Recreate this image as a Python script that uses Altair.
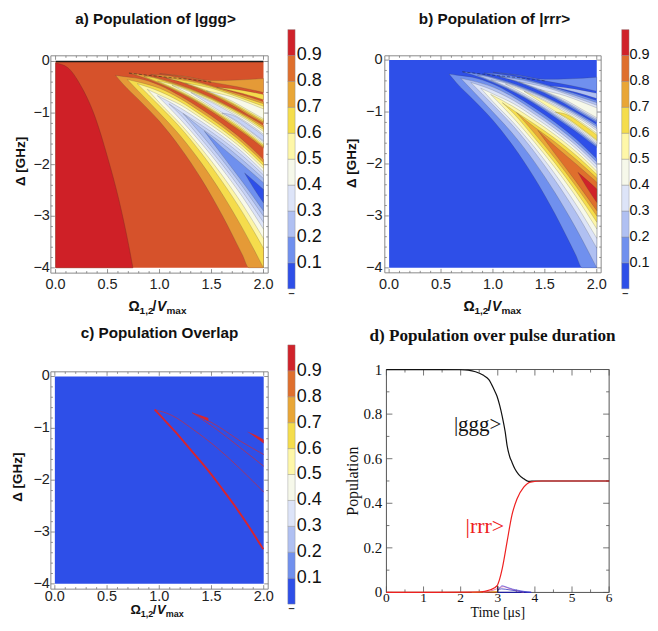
import altair as alt
import pandas as pd

# ---- contour lobes, each (omega, lower edge, upper edge)
C1 = ([.578,.65,.8,1,1.2,1.4,1.6,1.8,1.86,2], [-.27,-.44,-.74,-1.16,-1.67,-2.27,-2.97,-3.76,-4,-4], [-.27,-.29,-.33,-.46,-.67,-.92,-1.2,-1.52,-1.63,-1.9])
C2 = ([.69,.8,1,1.2,1.4,1.6,1.8,2], [-.35,-.58,-1.0,-1.44,-1.96,-2.56,-3.24,-4], [-.35,-.4,-.52,-.72,-.98,-1.26,-1.58,-1.96])
C3 = ([.786,1,1.2,1.4,1.6,1.8,2], [-.43,-.86,-1.28,-1.77,-2.32,-2.93,-3.62], [-.43,-.58,-.78,-1.04,-1.32,-1.64,-2.02])
C4 = ([.882,1,1.2,1.4,1.6,1.8,2], [-.54,-.8,-1.21,-1.68,-2.2,-2.78,-3.43], [-.54,-.65,-.84,-1.1,-1.38,-1.7,-2.08])
C5 = ([.978,1.2,1.4,1.6,1.8,2], [-.66,-1.12,-1.58,-2.08,-2.63,-3.25], [-.66,-.9,-1.16,-1.44,-1.76,-2.14])
C6 = ([1.09,1.2,1.4,1.6,1.8,2], [-.82,-1.03,-1.5,-1.99,-2.53,-3.12], [-.82,-.97,-1.23,-1.51,-1.83,-2.2])
C7 = ([1.227,1.4,1.6,1.8,2], [-1.01,-1.41,-1.9,-2.43,-3.0], [-1.01,-1.29,-1.58,-1.91,-2.27])
C8 = ([1.431,1.6,1.8,2], [-1.35,-1.81,-2.34,-2.9], [-1.35,-1.66,-2.0,-2.35])
C9 = ([1.818,1.9,2], [-2.16,-2.44,-2.74], [-2.16,-2.3,-2.48])
MAIN = [C1, C2, C3, C4, C5, C6, C7, C8, C9]

D1 = ([.706,.9,1.1,1.3,1.5,1.7,1.85,2], [-.225,-.35,-.52,-.72,-.97,-1.24,-1.45,-1.68], [-.225,-.28,-.39,-.53,-.7,-.9,-1.06,-1.24])
D2 = ([.85,.9,1.1,1.3,1.5,1.7,1.85,2], [-.29,-.33,-.5,-.7,-.94,-1.21,-1.42,-1.65], [-.29,-.3,-.41,-.55,-.72,-.92,-1.09,-1.28])
D3 = ([.98,1.1,1.3,1.5,1.7,1.85,2], [-.38,-.48,-.68,-.92,-1.18,-1.39,-1.62], [-.38,-.43,-.57,-.74,-.95,-1.12,-1.32])
D4 = ([1.12,1.3,1.5,1.7,1.85,2], [-.46,-.65,-.89,-1.15,-1.36,-1.59], [-.46,-.59,-.77,-.98,-1.15,-1.36])
D5 = ([1.3,1.5,1.7,1.85,2], [-.6,-.86,-1.12,-1.33,-1.56], [-.6,-.79,-1.01,-1.19,-1.41])
D6 = ([1.6,1.7,1.85,2], [-1.0,-1.1,-1.31,-1.54], [-1.0,-1.04,-1.22,-1.44])
SECOND = [D1, D2, D3, D4, D5, D6]

E1 = ([.914,1.1,1.3,1.5,1.7,1.85,2], [-.25,-.33,-.47,-.64,-.85,-1.03,-1.2], [-.25,-.28,-.36,-.47,-.59,-.68,-.78])
E2 = ([1.06,1.3,1.5,1.7,1.85,2], [-.32,-.45,-.62,-.82,-1.0,-1.17], [-.32,-.39,-.49,-.62,-.72,-.82])
E3 = ([1.25,1.5,1.7,1.85,2], [-.42,-.6,-.8,-.97,-1.14], [-.42,-.52,-.65,-.76,-.87])
E4 = ([1.45,1.7,1.85,2], [-.57,-.77,-.94,-1.11], [-.57,-.69,-.8,-.92])
THIRD = [E1, E2, E3, E4]

F1 = ([1.0,1.25,1.5,1.75,2], [-.235,-.3,-.4,-.49,-.6], [-.235,-.29,-.37,-.36,-.33])
F2 = ([1.55,1.8,2], [-.5,-.62,-.74], [-.5,-.56,-.64])

RED_X = [0,.115,.243,.37,.5,.61,.706,.744]
RED_Y = [-.03,-.116,-.47,-1.02,-1.855,-2.69,-3.59,-4]
DASH_X = [.706,.9,1.1,1.3,1.5]
DASH_Y = [-.225,-.27,-.31,-.35,-.4]

COL_A = ['#E59A37','#F5DC4C','#FDF6A6','#F8F9E9','#DCE3F8','#C6D2F6','#A9BCF1','#6F90EE','#2E4FE8']
COL_B = ['#7090EE','#B0C0F2','#DDE4F8','#F6F8EA','#FEF7A8','#F5DD4C','#E9A636','#DF6F2D','#D0222A']
BLUE = '#2E4FE8'
BASE_A = '#D6522B'
RED_A = '#CF2027'

# panel c curves
C_THICK_X = [.956,1.05,1.15,1.236,1.35,1.475,1.6,1.714,1.85,1.995]
C_THICK_Y = [-.64,-.84,-1.06,-1.26,-1.53,-1.83,-2.16,-2.47,-2.87,-3.33]
C_THIN1_X = [.956,1.11,1.33,1.555,1.78,2]
C_THIN1_Y = [-.64,-.74,-1.03,-1.38,-1.79,-2.23]
C_THIN2_X = [1.316,1.555,1.78,2]
C_THIN2_Y = [-.70,-1.03,-1.38,-1.73]
C_THIN3_X = [1.316,1.555,1.78,2]
C_THIN3_Y = [-.70,-.95,-1.25,-1.505]
W2 = ([1.316,1.40,1.47], [-.70,-.79,-.87], [-.70,-.75,-.80])
W3 = ([1.84,1.92,2], [-1.06,-1.17,-1.29], [-1.06,-1.13,-1.22])

# colour bar
BAR_LOW = [0,.1,.2,.3,.4,.5,.6,.7,.8,.9]
BAR_HIGH = [.1,.2,.3,.4,.5,.6,.7,.8,.9,1]
BAR_COL = ['#2E4FE8','#7090EE','#B0C0F2','#DDE4F8','#F6F8EA','#FEF7A8','#F5DD4C','#E9A636','#DF6F2D','#D0222A']
BAR_LAB = [.1,.2,.3,.4,.5,.6,.7,.8,.9]

# panel d curves
T_G = [0,1.5,2,2.2,2.4,2.6,2.76,2.9,2.98,3.05,3.12,3.2,3.25,3.32,3.38,3.46,3.56,3.7,3.83,4,6]
P_G = [1,1,.999,.997,.99,.975,.955,.91,.88,.84,.79,.72,.66,.61,.585,.555,.53,.51,.498,.5,.5]
T_R = [0,2.5,2.8,2.98,3.05,3.12,3.25,3.38,3.52,3.7,3.88,4.19,6]
P_R = [0,.002,.012,.03,.06,.107,.227,.346,.42,.472,.495,.5,.5]
T_S1 = [2.98,3.05,3.12,3.2,3.4,3.6,3.8,3.9]
P_S1 = [0,.02,.03,.026,.015,.008,.002,0]
T_S2 = [2.6,2.8,3.0,3.15,3.3,3.5,3.7]
P_S2 = [.001,.006,.018,.026,.018,.008,.001]
T_S3 = [3.0,3.1,3.3,3.5,3.7,3.9]
P_S3 = [.012,.016,.012,.007,.003,0]
T_S4 = [2.3,2.6,2.8,3.0]
P_S4 = [0,.003,.005,.004]
T_BASE1 = [0,3]
P_BASE1 = [0,0]
T_BASE2 = [3,3.9]
P_BASE2 = [0,0]
T_V = [3,3]
P_V = [0,.03]

X_MAJOR = [0,.5,1,1.5,2]
X_LABELS = ['0.0','0.5','1.0','1.5','2.0']
X_MINOR = [.1,.2,.3,.4,.6,.7,.8,.9,1.1,1.2,1.3,1.4,1.6,1.7,1.8,1.9]
Y_MAJOR = [-4,-3,-2,-1,0]
Y_LABELS = ['−4','−3','−2','−1','0']
Y_MINOR = [-3.8,-3.6,-3.4,-3.2,-2.8,-2.6,-2.4,-2.2,-1.8,-1.6,-1.4,-1.2,-.8,-.6,-.4,-.2]
T_MAJOR = [0,1,2,3,4,5,6]
T_LABELS = ['0','1','2','3','4','5','6']
T_MINOR = [.5,1.5,2.5,3.5,4.5,5.5]
Q_MAJOR = [0,.2,.4,.6,.8,1]
Q_LABELS = ['0','0.2','0.4','0.6','0.8','1']
Q_MINOR = [.1,.3,.5,.7,.9]

SANS = 'Liberation Sans'
SERIF = 'Liberation Serif'
ONE = alt.Data(values=[{'k': 1}])


def text(s, x, y, size, font=SANS, weight='normal', style='normal', color='#111', align='left', angle=0, base='alphabetic'):
    kw = dict(text=s, font=font, fontSize=size, fontWeight=weight, fontStyle=style,
              color=color, align=align, baseline=base)
    if angle:
        kw['angle'] = angle
    return alt.Chart(ONE).mark_text(**kw).encode(x=alt.value(x), y=alt.value(y))


def frame(l, r, t, b, color='#8a8a8a', w=1.0):
    return alt.Chart(ONE).mark_rect(fill='transparent', stroke=color, strokeWidth=w).encode(
        x=alt.value(l), x2=alt.value(r), y=alt.value(t), y2=alt.value(b))


def xticks(vals, xs, l0, l1, color='#777', w=.8):
    return alt.Chart(pd.DataFrame({'v': vals})).mark_rule(color=color, strokeWidth=w).encode(
        x=alt.X('v:Q', scale=xs, axis=None), y=alt.value(l0), y2=alt.value(l1))


def yticks(vals, ys, l0, l1, color='#777', w=.8):
    return alt.Chart(pd.DataFrame({'v': vals})).mark_rule(color=color, strokeWidth=w).encode(
        y=alt.Y('v:Q', scale=ys, axis=None), x=alt.value(l0), x2=alt.value(l1))


def xlabels(vals, labs, xs, y, font, size, color='#222'):
    return alt.Chart(pd.DataFrame({'v': vals, 't': labs})).mark_text(
        font=font, fontSize=size, color=color, align='center', baseline='middle'
    ).encode(x=alt.X('v:Q', scale=xs, axis=None), y=alt.value(y), text='t:N')


def ylabels(vals, labs, ys, x, font, size, color='#222'):
    return alt.Chart(pd.DataFrame({'v': vals, 't': labs})).mark_text(
        font=font, fontSize=size, color=color, align='right', baseline='middle'
    ).encode(y=alt.Y('v:Q', scale=ys, axis=None), x=alt.value(x), text='t:N')


def lobes_df(groups):
    rows = []
    k = 0
    for lobe, c in groups:
        for x, lo, up in zip(*lobe):
            rows.append({'x': x, 'lo': lo, 'up': up, 'g': f'{k:02d}', 'c': c})
        k += 1
    return pd.DataFrame(rows)


def lobes_layer(groups, xs, ys):
    return alt.Chart(lobes_df(groups)).mark_area(
        interpolate='monotone', stroke='#3a3a3a', strokeWidth=.35, strokeOpacity=.55
    ).encode(
        x=alt.X('x:Q', scale=xs, axis=None),
        y=alt.Y('lo:Q', scale=ys, axis=None),
        y2='up:Q',
        fill=alt.Color('c:N', scale=None),
        detail='g:N',
    )


def curve(tx, ty, xs, ys, color, w, dash=None, op=1, interp='monotone'):
    kw = dict(color=color, strokeWidth=w, opacity=op, interpolate=interp)
    if dash:
        kw['strokeDash'] = dash
    return alt.Chart(pd.DataFrame({'x': tx, 'y': ty})).mark_line(**kw).encode(
        x=alt.X('x:Q', scale=xs, axis=None), y=alt.Y('y:Q', scale=ys, axis=None))


def plain_area(tr, xs, ys, color):
    return alt.Chart(pd.DataFrame({'x': tr[0], 'lo': tr[1], 'up': tr[2]})).mark_area(
        color=color, interpolate='monotone').encode(
        x=alt.X('x:Q', scale=xs, axis=None), y=alt.Y('lo:Q', scale=ys, axis=None), y2='up:Q')


def omega_title(dx, by, s=14, sub=10, drop=3):
    k = s / 14
    return [
        text('Ω', dx, by, s, weight='bold'),
        text('1,2', dx + 11 * k, by + drop, sub, weight='bold'),
        text('/', dx + 24 * k, by, s, weight='bold'),
        text('V', dx + 28.5 * k, by, s, weight='bold', style='italic'),
        text('max', dx + 38 * k, by + drop, sub, weight='bold'),
    ]


def math_panel(w, h, xr, yr, fr, lab_y, lab_x, fills, title, tx, ty, dy_tx, ylab_x, om_x, om_y, om=(14, 10, 3)):
    xs = alt.Scale(domain=[0, 2], range=list(xr))
    ys = alt.Scale(domain=[-4, 0], range=list(yr))
    l, r, t, b = fr
    layers = list(fills(xs, ys))
    layers += [
        frame(l, r, t, b),
        xticks(X_MAJOR, xs, b, b - 4), xticks(X_MINOR, xs, b, b - 2),
        xticks(X_MAJOR, xs, t, t + 4), xticks(X_MINOR, xs, t, t + 2),
        yticks(Y_MAJOR, ys, l, l + 4), yticks(Y_MINOR, ys, l, l + 2),
        yticks(Y_MAJOR, ys, r, r - 4), yticks(Y_MINOR, ys, r, r - 2),
        xlabels(X_MAJOR, X_LABELS, xs, lab_y, SANS, 14.5),
        ylabels(Y_MAJOR, Y_LABELS, ys, lab_x, SANS, 14.5),
        text(title, tx, ty, 15.3, weight='bold', align='center', base='middle'),
        text('Δ [GHz]', ylab_x, dy_tx, 13.5, weight='bold', align='center', angle=270, base='middle'),
    ]
    layers += omega_title(om_x, om_y, *om)
    return alt.layer(*layers).properties(width=w, height=h)


def fills_a(xs, ys):
    groups = [(L, COL_A[i]) for i, L in enumerate(MAIN)]
    groups += [(L, COL_A[i]) for i, L in enumerate(THIRD)]
    groups += [(L, COL_A[i]) for i, L in enumerate(SECOND)]
    groups += [(F1, COL_A[0]), (F2, COL_A[1])]
    base = alt.Chart(pd.DataFrame({'x': [0, 2], 'lo': [-4, -4], 'up': [0, 0]})).mark_area(color=BASE_A).encode(
        x=alt.X('x:Q', scale=xs, axis=None), y=alt.Y('lo:Q', scale=ys, axis=None), y2='up:Q')
    red = alt.Chart(pd.DataFrame({'x': RED_X, 'up': RED_Y, 'lo': [-4] * len(RED_X)})).mark_area(
        color=RED_A, interpolate='monotone', stroke='#7a2a20', strokeWidth=.4).encode(
        x=alt.X('x:Q', scale=xs, axis=None), y=alt.Y('lo:Q', scale=ys, axis=None), y2='up:Q')
    top = curve([0, 2], [0, 0], xs, ys, '#1a1a1a', 1.3)
    dashed = curve(DASH_X, DASH_Y, xs, ys, '#3a2a1a', .8, dash=[3, 2], op=.7)
    return [base, red, lobes_layer(groups, xs, ys), dashed, top]


def fills_b(xs, ys):
    groups = [(L, COL_B[i]) for i, L in enumerate(MAIN)]
    groups += [(L, COL_B[i]) for i, L in enumerate(THIRD)]
    groups += [(L, COL_B[i]) for i, L in enumerate(SECOND)]
    groups += [(F1, COL_B[0]), (F2, COL_B[1])]
    base = alt.Chart(pd.DataFrame({'x': [0, 2], 'lo': [-4, -4], 'up': [0, 0]})).mark_area(color=BLUE).encode(
        x=alt.X('x:Q', scale=xs, axis=None), y=alt.Y('lo:Q', scale=ys, axis=None), y2='up:Q')
    dashed = curve(DASH_X, DASH_Y, xs, ys, '#1a2a5a', .8, dash=[3, 2], op=.7)
    return [base, lobes_layer(groups, xs, ys), dashed]


def fills_c(xs, ys):
    base = alt.Chart(pd.DataFrame({'x': [0, 2], 'lo': [-4, -4], 'up': [0, 0]})).mark_area(color=BLUE).encode(
        x=alt.X('x:Q', scale=xs, axis=None), y=alt.Y('lo:Q', scale=ys, axis=None), y2='up:Q')
    return [
        base,
        curve(C_THIN1_X, C_THIN1_Y, xs, ys, '#B8304E', .8),
        curve(C_THIN2_X, C_THIN2_Y, xs, ys, '#B8304E', .8),
        curve(C_THIN3_X, C_THIN3_Y, xs, ys, '#B8304E', .8),
        curve(C_THICK_X, C_THICK_Y, xs, ys, '#D8242E', 1.9),
        plain_area(W2, xs, ys, '#D8242E'),
        plain_area(W3, xs, ys, '#D8242E'),
    ]


def colorbar(w, h, bx0, bx1, yr, lab_x, lab_size=18):
    ys = alt.Scale(domain=[0, 1], range=list(yr))
    df = pd.DataFrame({'a': BAR_LOW, 'b': BAR_HIGH, 'c': BAR_COL})
    rects = alt.Chart(df).mark_rect(stroke='#8a8a8a', strokeWidth=.4).encode(
        x=alt.value(bx0), x2=alt.value(bx1),
        y=alt.Y('a:Q', scale=ys, axis=None), y2='b:Q',
        fill=alt.Color('c:N', scale=None))
    labs = alt.Chart(pd.DataFrame({'v': BAR_LAB})).mark_text(
        font=SANS, fontSize=lab_size, align='left', baseline='middle', color='#111'
    ).encode(x=alt.value(lab_x), y=alt.Y('v:Q', scale=ys, axis=None), text=alt.Text('v:Q', format='.1f'))
    dash = alt.Chart(pd.DataFrame({'v': [-.02]})).mark_text(
        text='–', font=SANS, fontSize=11, fontWeight='bold', align='center', baseline='middle', color='#333'
    ).encode(x=alt.value((bx0 + bx1) / 2), y=alt.Y('v:Q', scale=ys, axis=None))
    return alt.layer(rects, labs, dash).properties(width=w, height=h)


def panel_d():
    xs = alt.Scale(domain=[0, 6], range=[1.6, 225])
    ys = alt.Scale(domain=[0, 1], range=[223.6, 0])
    G = '#555'
    layers = [
        frame(1.6, 225, 0, 223.6, color=G, w=1),
        xticks(T_MAJOR, xs, 223.6, 217.6, G), xticks(T_MINOR, xs, 223.6, 220.6, G),
        xticks(T_MAJOR, xs, 0, 6, G), xticks(T_MINOR, xs, 0, 3, G),
        yticks(Q_MAJOR, ys, 1.6, 7.6, G), yticks(Q_MINOR, ys, 1.6, 4.6, G),
        yticks(Q_MAJOR, ys, 225, 219, G), yticks(Q_MINOR, ys, 225, 222, G),
        xlabels(T_MAJOR, T_LABELS, xs, 229, SERIF, 13.5, '#111'),
        ylabels(Q_MAJOR, Q_LABELS, ys, -2.7, SERIF, 15, '#111'),
        curve(T_BASE1, P_BASE1, xs, ys, '#A04A20', 1.3),
        curve(T_BASE2, P_BASE2, xs, ys, '#2020A0', 1.3),
        curve(T_S4, P_S4, xs, ys, '#E8A030', .9),
        curve(T_S2, P_S2, xs, ys, '#E060A0', .8),
        curve(T_S1, P_S1, xs, ys, '#6060E0', .8),
        curve(T_S3, P_S3, xs, ys, '#3030C0', .8),
        curve(T_V, P_V, xs, ys, '#111', 1, interp='linear'),
        curve(T_G, P_G, xs, ys, '#111', 1.2),
        curve(T_R, P_R, xs, ys, '#EE2020', 1.2),
        text('|ggg>', 69.3, 61.8, 21, font=SERIF, color='#111'),
        text('|rrr>', 81, 164, 22, font=SERIF, color='#EE2020'),
        text('d) Population over pulse duration', 108, -33.7, 17.2, font=SERIF, weight='bold',
             align='center', base='middle'),
        text('Time [μs]', 113.3, 248.5, 14, font=SERIF, align='center', base='alphabetic'),
        text('Population', -31.7, 112, 16, font=SERIF, align='center', angle=270, base='middle'),
    ]
    return alt.layer(*layers).properties(width=225, height=223.6)


a = math_panel(218, 218, (4.7, 213.3), (212.7, 5.7), (0, 218, 0, 218), 230, -1, fills_a,
               'a) Population of |ggg>', 105, -37, 106, -30, 78, 256)
bar_a = colorbar(116.7, 218, 19.7, 27, (233.7, -26.3), 28.7)
b = math_panel(217, 218, (4.3, 212.6), (212.7, 4.3), (0, 217, 0, 217.7), 230, -2.4, fills_b,
               'b) Population of |rrr>', 110, -37, 108, -32.7, 79, 256)
bar_b = colorbar(30, 218, 12.6, 20, (233.7, -26.3), 20.5, lab_size=14.5)
c = math_panel(218, 223.6, (4, 213.5), (215, 7), (0, 218, 2.3, 220.3), 228, -1, fills_c,
               'c) Population Overlap', 109, -37, 108, -33, 80, 245.5, om=(13, 9, 2.5))
bar_c = colorbar(116.7, 223.6, 19.7, 27, (235.3, -24.7), 28.7)
d = panel_d()

chart = alt.concat(a, bar_a, b, bar_b, c, bar_c, d, columns=4, bounds='flush', align='each',
                   spacing=alt.RowColnumber(row=96.7, column=0)).properties(
    padding={'left': 3, 'top': 3, 'right': 0, 'bottom': 0}
).configure_view(stroke=None)

chart.save("out.html", embed_options={"renderer": "svg", "actions": False})
